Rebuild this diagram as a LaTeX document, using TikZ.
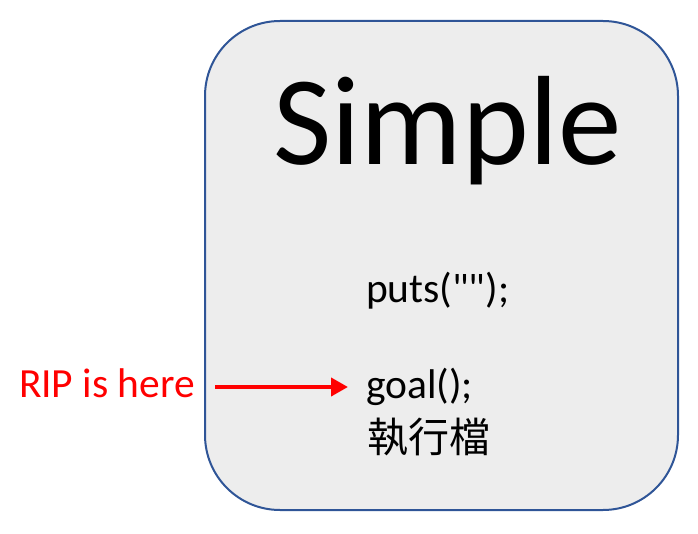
\documentclass[tikz,border=0pt]{standalone}
\usepackage{fontspec}
\setmainfont{Carlito}[Ligatures=TeXOff]
\newfontfamily\cjk{Noto Sans CJK TC}
\usetikzlibrary{arrows.meta}
\definecolor{boxfill}{HTML}{EDEDED}
\definecolor{boxline}{HTML}{2F5597}
\definecolor{ripred}{HTML}{FF0000}
\begin{document}
\begin{tikzpicture}[x=1pt,y=-1pt,
  txt/.style={inner sep=0pt,outer sep=0pt,font=\fontsize{41.5}{48}\selectfont},
  bigbox/.style={draw=boxline,line width=2pt,fill=boxfill,rounded corners=75pt,
    minimum width=473pt,minimum height=489pt,inner sep=0pt}]
\useasboundingbox (0,0) rectangle (698,534);
\node[bigbox] (box) at (441.5,265.5) {};
\node[txt,anchor=base,font=\fontsize{127}{130}\selectfont] (title) at (447.5,165) {Simple};
\node[txt,anchor=base west] (puts) at (366,303) {puts("");};
\node[txt,anchor=base west] (goal) at (366,398) {goal();};
\node[txt,anchor=base west,font=\fontsize{41}{48}\cjk] (exe) at (367,452) {執行檔};
\node[txt,anchor=base west,text=ripred] (rip) at (19,397) {RIP is here};
\coordinate (a1) at (215,387);
\coordinate (a2) at (348,387);
\draw[ripred,line width=4pt,-{Triangle[length=17pt,width=18pt]}] (a1) -- (a2);
\end{tikzpicture}
\end{document}
